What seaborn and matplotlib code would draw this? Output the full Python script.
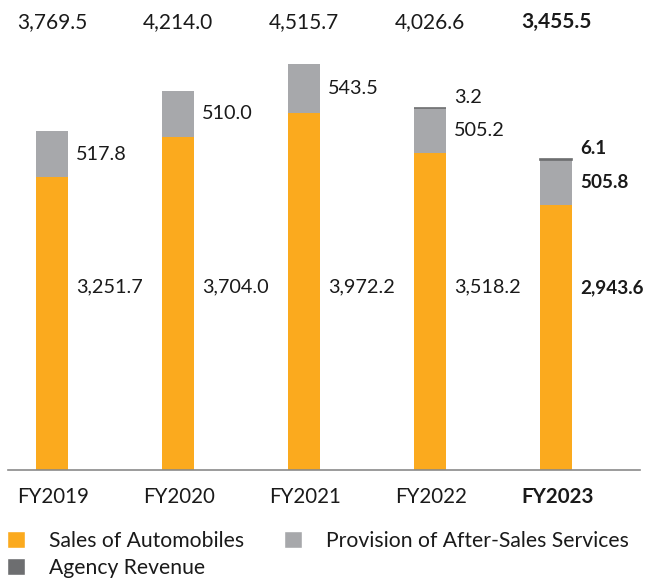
import matplotlib
matplotlib.use("Agg")
import matplotlib.pyplot as plt
import matplotlib.transforms as mtransforms
from matplotlib.patches import Patch
import seaborn as sns
import pandas as pd

years = ["FY2019", "FY2020", "FY2021", "FY2022", "FY2023"]
sales = [3251.7, 3704.0, 3972.2, 3518.2, 2943.6]
after_sales = [517.8, 510.0, 543.5, 505.2, 505.8]
agency = [0.0, 0.0, 0.0, 3.2, 6.1]
totals = ["3,769.5", "4,214.0", "4,515.7", "4,026.6", "3,455.5"]
sales_lbl = ["3,251.7", "3,704.0", "3,972.2", "3,518.2", "2,943.6"]
after_lbl = ["517.8", "510.0", "543.5", "505.2", "505.8"]
agency_lbl = ["", "", "", "3.2", "6.1"]
series_names = ["Sales of Automobiles", "Provision of After-Sales Services", "Agency Revenue"]

C_ORANGE = "#FBAA1E"
C_GRAY = "#A7A8AB"
C_DARK = "#6D6E70"

sns.set_theme(style="white")
plt.rcParams["font.family"] = ["Lato", "DejaVu Sans"]

df = pd.DataFrame({"year": years, "sales": sales, "after": after_sales, "agency": agency})
df["base2"] = df["sales"] + df["after"]

fig = plt.figure(figsize=(6.45, 5.78), dpi=100)
ax = fig.add_axes([8 / 645, (578 - 470) / 578, 632 / 645, 430 / 578])

W = 0.254
sns.barplot(data=df, x="year", y="sales", color=C_ORANGE, saturation=1, width=W, ax=ax, linewidth=0)
sns.barplot(data=df, x="year", y="after", bottom=df["sales"], color=C_GRAY, saturation=1, width=W, ax=ax, linewidth=0)
sns.barplot(data=df, x="year", y="agency", bottom=df["base2"], color=C_DARK, saturation=1, width=W, ax=ax,
            edgecolor=C_DARK, linewidth=1.2)
for p in ax.patches:
    if p.get_height() == 0:
        p.set_visible(False)

ax.set_xlim(-0.349, 4.667)
ax.set_ylim(0, 430 / 0.09)
for s in ["top", "right", "left"]:
    ax.spines[s].set_visible(False)
ax.spines["bottom"].set_color("#8a8a8a")
ax.spines["bottom"].set_linewidth(1.2)
ax.set_yticks([])
ax.set_xticks([])
ax.set_xlabel("")
ax.set_ylabel("")

trans = mtransforms.blended_transform_factory(ax.transData, ax.transAxes)
FS = 14.3
TXT = "#1a1a1a"
for i in range(len(years)):
    last = i == len(years) - 1
    bold = "bold" if last else "normal"
    fs = 13.6 if last else FS
    xl = -0.278 + 1.0 * i
    ax.text(xl, 1.042, totals[i], transform=trans, ha="left", va="center", fontsize=FS + 0.7, fontweight=bold, color=TXT)
    ax.text(xl, -0.063, years[i], transform=trans, ha="left", va="center", fontsize=FS + 0.5, fontweight=bold, color=TXT)
    xr = i + W / 2 + 0.065
    ax.text(xr, 2030, sales_lbl[i], ha="left", va="center", fontsize=fs, fontweight=bold, color=TXT)
    ax.text(xr, sales[i] + after_sales[i] / 2, after_lbl[i], ha="left", va="center", fontsize=fs, fontweight=bold, color=TXT)
    if agency_lbl[i]:
        ax.text(xr, sales[i] + after_sales[i] + agency[i] + 20, agency_lbl[i], ha="left", va="bottom",
                fontsize=fs, fontweight=bold, color=TXT)

handles = [Patch(facecolor=C_ORANGE, label=series_names[0]),
           Patch(facecolor=C_DARK, label=series_names[2]),
           Patch(facecolor=C_GRAY, label=series_names[1])]
fig.legend(handles=handles, ncol=2, loc="upper left", bbox_to_anchor=(0.004, 1 - 527 / 578),
           frameon=False, fontsize=15.2, handlelength=0.85, handleheight=0.85, handletextpad=1.15,
           columnspacing=1.9, labelspacing=0.3, borderaxespad=0, borderpad=0.2, labelcolor=TXT)

fig.savefig("out.png", dpi=100)
